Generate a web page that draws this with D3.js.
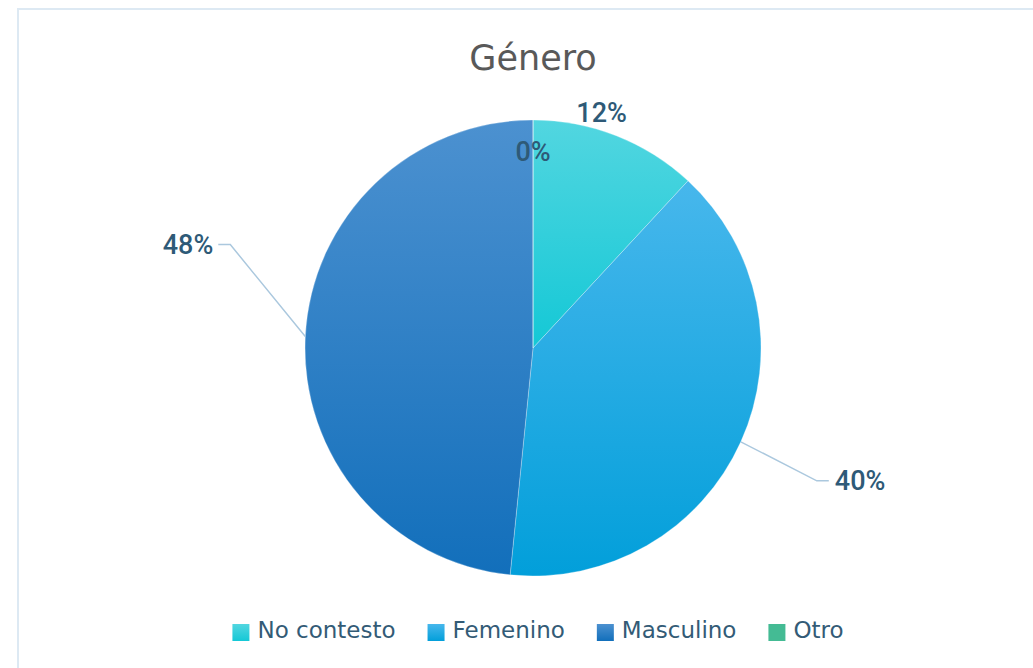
<!DOCTYPE html>
<html>
<head>
<meta charset="utf-8">
<title>Género</title>
<style>
body { margin: 0; background: #fff; }
text { font-family: "DejaVu Sans", sans-serif; }
</style>
</head>
<body>
<script src="https://cdn.jsdelivr.net/npm/d3@7/dist/d3.min.js"></script>
<script>

// data
var categories = ["No contesto", "Femenino", "Masculino", "Otro"];
var values = [11.9, 39.7, 48.4, 0];

// colours: top / bottom of each slice gradient
var colTop = ["#52d6e0", "#47b7ec", "#4c91d0", "#44bb94"];
var colBot = ["#14c8d6", "#029fda", "#126fbb", "#44bb94"];

var width = 1033, height = 668;
var cx = 533, cy = 348, radius = 228;

var svg = d3.select("body").append("svg")
    .attr("width", width)
    .attr("height", height);

// frame
svg.append("rect")
    .attr("x", 18).attr("y", 9)
    .attr("width", width + 20).attr("height", height + 20)
    .attr("fill", "none")
    .attr("stroke", "#dde9f3")
    .attr("stroke-width", 2);

svg.append("text")
    .attr("x", cx).attr("y", 70)
    .attr("text-anchor", "middle")
    .style("font-size", "35px")
    .style("fill", "#595959")
    .text("Género");

var defs = svg.append("defs");
categories.forEach(function(c, i) {
  var g = defs.append("linearGradient")
      .attr("id", "grad" + i)
      .attr("x1", 0).attr("y1", 0).attr("x2", 0).attr("y2", 1);
  g.append("stop").attr("offset", "0%").attr("stop-color", colTop[i]);
  g.append("stop").attr("offset", "100%").attr("stop-color", colBot[i]);
});

var total = d3.sum(values);
var pie = d3.pie().sort(null).value(function(d) { return d; });
var arcs = pie(values);

var arc = d3.arc().innerRadius(0).outerRadius(radius);

var chart = svg.append("g")
    .attr("transform", "translate(" + cx + "," + cy + ")");

chart.selectAll("path.slice")
    .data(arcs)
    .enter().append("path")
    .attr("class", "slice")
    .attr("d", arc)
    .attr("fill", function(d, i) { return "url(#grad" + i + ")"; })
    .attr("stroke", "#ffffff")
    .attr("stroke-opacity", 0.4)
    .attr("stroke-width", 0.7);

function pointAt(angle, r) {
  return [r * Math.sin(angle), -r * Math.cos(angle)];
}

var labelColor = "#2e5a77";
var leader = "#abc8de";

arcs.forEach(function(d, i) {
  var mid = (d.startAngle + d.endAngle) / 2;
  var lbl = chart.append("text")
      .style("font-size", "27px")
      .style("font-family", "Roboto, 'DejaVu Sans', sans-serif")
      .style("font-weight", 500)
      .style("fill", labelColor)
      .text(Math.round(d.value / total * 100) + "%");

  if (d.value === 0) {
    // empty slice: label sits just inside the rim
    var p = pointAt(mid, radius * 0.86);
    lbl.attr("x", p[0]).attr("y", p[1]).attr("dy", "0.35em").attr("text-anchor", "middle");
  } else if (d.value < 20) {
    // small slice: label just outside, no leader
    var p = pointAt(mid - 0.09, radius + 17);
    lbl.attr("x", p[0]).attr("y", p[1]).attr("dy", "0.35em").attr("text-anchor", "middle");
  } else {
    var start = pointAt(mid, radius);
    var right = Math.sin(mid) > 0;
    var elbow = right ? [start[0] + 76, start[1] + 39] : [start[0] - 75, start[1] - 92];
    var end = [elbow[0] + (right ? 12 : -12), elbow[1]];
    chart.append("polyline")
        .attr("points", [start, elbow, end].map(function(q) { return q.join(","); }).join(" "))
        .attr("fill", "none")
        .attr("stroke", leader)
        .attr("stroke-width", 1.5);
    lbl.attr("x", end[0] + (right ? 6 : -5))
        .attr("y", end[1])
        .attr("dy", "0.35em")
        .attr("text-anchor", right ? "start" : "end");
  }
});

// legend
var legend = svg.append("g");
var x = 0;
var items = legend.selectAll("g.item")
    .data(categories)
    .enter().append("g")
    .attr("class", "item");

items.append("rect")
    .attr("width", 17).attr("height", 17)
    .attr("y", 624)
    .attr("fill", function(d, i) { return "url(#grad" + i + ")"; });

items.append("text")
    .attr("y", 638)
    .style("font-size", "23px")
    .style("fill", "#335b76")
    .text(function(d) { return d; });

items.each(function() {
  var g = d3.select(this);
  var w = g.select("text").node().getComputedTextLength();
  g.select("rect").attr("x", x);
  g.select("text").attr("x", x + 25);
  x += 25 + w + 32;
});
var legendW = x - 32;
legend.attr("transform", "translate(" + (538 - legendW / 2) + ",0)");

</script>
</body>
</html>
